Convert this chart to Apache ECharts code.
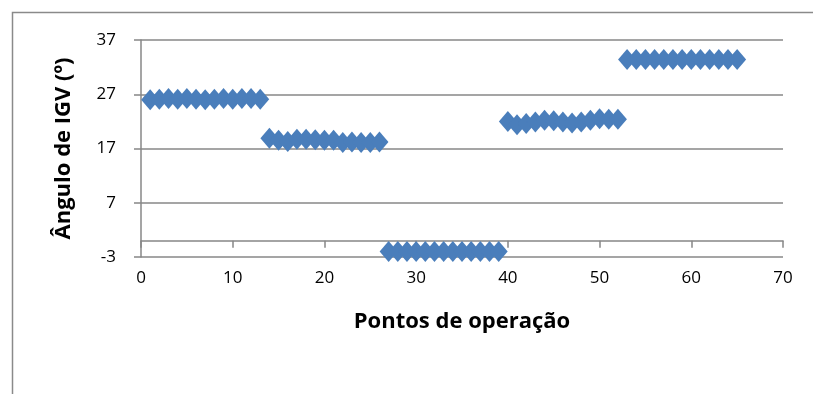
<!DOCTYPE html>
<html>
<head>
<meta charset="utf-8">
<script src="https://cdn.jsdelivr.net/npm/echarts@6/dist/echarts.min.js"></script>
<style>
html,body{margin:0;padding:0;background:#fff;}
#chart{width:813px;height:394px;}
</style>
</head>
<body>
<div id="chart"></div>
<script>
// Operating points (x) and IGV angle (y, degrees)
var pontos = [];
for (var i = 1; i <= 65; i++) pontos.push(i);
var grupo1 = [26.0, 26.1, 26.2, 26.1, 26.2, 26.1, 26.0, 26.1, 26.2, 26.1, 26.2, 26.2, 26.1];
var grupo2 = [18.9, 18.5, 18.3, 18.7, 18.7, 18.6, 18.5, 18.5, 18.1, 18.2, 18.1, 18.1, 18.2];
var grupo3 = [-2.0, -2.0, -2.0, -2.0, -2.0, -2.0, -2.0, -2.0, -2.0, -2.0, -2.0, -2.0, -2.0];
var grupo4 = [22.0, 21.4, 21.6, 21.9, 22.2, 22.1, 21.9, 21.7, 21.9, 22.2, 22.5, 22.4, 22.4];
var grupo5 = [33.4, 33.4, 33.4, 33.4, 33.4, 33.4, 33.4, 33.4, 33.4, 33.4, 33.4, 33.4, 33.4];
var angulos = grupo1.concat(grupo2, grupo3, grupo4, grupo5);
var xTicks = [0, 10, 20, 30, 40, 50, 60, 70];
var yTicks = [-3, 7, 17, 27, 37];

var data = pontos.map(function (p, k) { return [p, angulos[k]]; });

var grey = '#878787';
var chart = echarts.init(document.getElementById('chart'), null, {renderer: 'canvas'});
chart.setOption({
  animation: false,
  backgroundColor: '#fff',
  graphic: [{
    type: 'rect', left: 10, top: 10, silent: true,
    shape: {x: 0, y: 0, width: 900, height: 500},
    style: {fill: 'none', stroke: '#8a8a8a', lineWidth: 1.5}
  }],
  grid: {left: 141, right: 30, top: 40, bottom: 137, containLabel: false},
  xAxis: [{
    type: 'value', min: xTicks[0], max: xTicks[xTicks.length - 1], interval: 10,
    position: 'bottom',
    axisLine: {show: true, onZero: true, lineStyle: {color: grey, width: 1.5}},
    axisTick: {show: true, length: 7, lineStyle: {color: grey, width: 1.5}},
    axisLabel: {show: false},
    splitLine: {show: false}
  }, {
    type: 'value', min: xTicks[0], max: xTicks[xTicks.length - 1], interval: 10,
    position: 'bottom',
    name: 'Pontos de operação', nameLocation: 'middle', nameGap: 54,
    nameTextStyle: {fontFamily: 'Open Sans', fontWeight: 'bold', fontSize: 22, color: '#000'},
    axisLine: {show: false, onZero: false},
    axisTick: {show: false},
    axisLabel: {show: true, margin: 13, fontFamily: 'Open Sans', fontSize: 17, color: '#000'},
    splitLine: {show: false}
  }],
  yAxis: {
    type: 'value', min: yTicks[0], max: yTicks[yTicks.length - 1], interval: 10,
    name: 'Ângulo de IGV (º)', nameLocation: 'middle', nameGap: 66,
    nameTextStyle: {fontFamily: 'Open Sans', fontWeight: 'bold', fontSize: 22, color: '#000'},
    axisLine: {show: true, lineStyle: {color: grey, width: 1.5}},
    axisTick: {show: true, length: 7, lineStyle: {color: grey, width: 1.5}},
    axisLabel: {margin: 25, fontFamily: 'Open Sans', fontSize: 17, color: '#000'},
    splitLine: {show: true, lineStyle: {color: grey, width: 1.5}}
  },
  series: [{
    type: 'scatter',
    xAxisIndex: 0,
    data: data,
    symbol: 'diamond',
    symbolSize: [18, 21],
    itemStyle: {color: '#4A7EBB', opacity: 1}
  }]
});
</script>
</body>
</html>
